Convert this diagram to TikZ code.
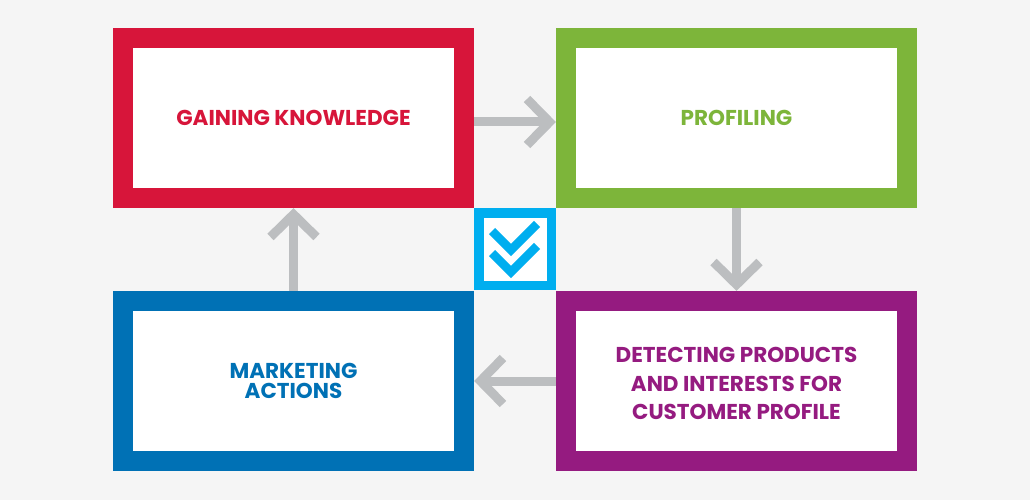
\documentclass[tikz,border=0pt]{standalone}
\usepackage{fontspec}
\setmainfont{Poppins}
\usetikzlibrary{calc}
\definecolor{bg}{HTML}{F5F5F5}
\definecolor{cred}{HTML}{D7153A}
\definecolor{cgreen}{HTML}{7DB53A}
\definecolor{cblue}{HTML}{0071B5}
\definecolor{cpurple}{HTML}{951B80}
\definecolor{clight}{HTML}{00AEEF}
\definecolor{cgray}{HTML}{BCBEC0}
\begin{document}
\begin{tikzpicture}[x=1pt,y=-1pt,
  stepbox/.style={draw=#1, text=#1, fill=white, line width=20pt,
    minimum width=341pt, minimum height=160pt, inner sep=0pt,
    align=center, font=\bfseries\fontsize{21.5}{28.5}\selectfont},
  steptext/.style={text=#1, inner sep=0pt, align=center,
    font=\bfseries\fontsize{21.5}{28.5}\selectfont},
  shaft/.style={draw=cgray, line width=9pt},
  head/.style={draw=cgray, line width=9pt, line join=miter},
  tick/.style={draw=clight, line width=8.5pt, line join=miter}]
\fill[bg] (0,0) rectangle (1030,500);
\useasboundingbox (0,0) rectangle (1030,500);

\node[stepbox=cred] (gain) at (293.5,118) {GAINING KNOWLEDGE};
\node[stepbox=cgreen] (prof) at (736.5,118) {PROFILING};
\node[stepbox=cpurple] (det) at (736.5,381) {};
\node[steptext=cpurple] (dettext) at (736.5,383.5) {DETECTING PRODUCTS\\AND INTERESTS FOR\\CUSTOMER PROFILE};
\node[stepbox=cblue, font=\bfseries\fontsize{21.5}{19.5}\selectfont] (mkt) at (293.5,381) {MARKETING\\ACTIONS};

\node[draw=clight, fill=white, line width=9.5pt, minimum size=72.5pt, inner sep=0pt] (chk) at (515,249) {};
\draw[tick] ($(chk)+(-23,-18)$) -- ($(chk)+(-4,1)$) -- ($(chk)+(22,-25)$);
\draw[tick] ($(chk)+(-23,4)$) -- ($(chk)+(-4,23)$) -- ($(chk)+(22,-3)$);

% right arrow
\coordinate (t1) at ([yshift=-4pt]prof.west);
\draw[shaft] ([yshift=-4pt]gain.east) -- ($(t1)+(-5,0)$);
\draw[head] ($(t1)+(-29,-23)$) -- ($(t1)+(-6.4,0)$) -- ($(t1)+(-29,23)$);
% down arrow
\coordinate (t2) at (det.north);
\draw[shaft] (prof.south) -- ($(t2)+(0,-5)$);
\draw[head] ($(t2)+(-23,-29)$) -- ($(t2)+(0,-6.4)$) -- ($(t2)+(23,-29)$);
% left arrow
\coordinate (t3) at (mkt.east);
\draw[shaft] (det.west) -- ($(t3)+(5,0)$);
\draw[head] ($(t3)+(29,-23)$) -- ($(t3)+(6.4,0)$) -- ($(t3)+(29,23)$);
% up arrow
\coordinate (t4) at (gain.south);
\draw[shaft] (mkt.north) -- ($(t4)+(0,5)$);
\draw[head] ($(t4)+(-23,29)$) -- ($(t4)+(0,6.4)$) -- ($(t4)+(23,29)$);
\end{tikzpicture}
\end{document}
